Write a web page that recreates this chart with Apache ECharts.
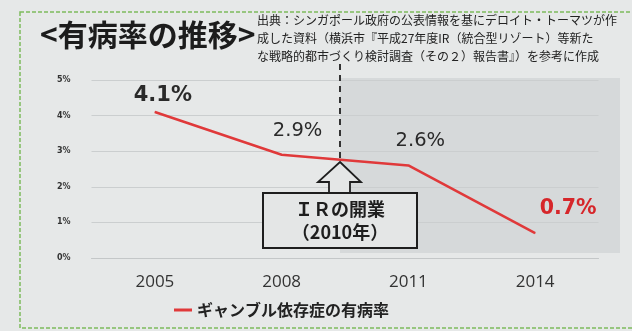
<!DOCTYPE html>
<html>
<head>
<meta charset="utf-8">
<script src="https://cdn.jsdelivr.net/npm/echarts@6/dist/echarts.min.js"></script>
<style>
  html, body { margin: 0; padding: 0; background: #e6e8e8; }
  #chart { width: 632px; height: 331px; }
</style>
</head>
<body>
<div id="chart"></div>
<script>
// Prevalence of gambling addiction (Singapore)
const years = ['2005', '2008', '2011', '2014'];
const prevalence = [4.1, 2.9, 2.6, 0.7];
const yTicks = [0, 1, 2, 3, 4, 5];
const seriesName = 'ギャンブル依存症の有病率';
const titleText = '<有病率の推移>';
const sourceLines = [
  '出典：シンガポール政府の公表情報を基にデロイト・トーマツが作',
  '成した資料（横浜市『平成27年度IR（統合型リゾート）等新た',
  'な戦略的都市づくり検討調査（その２）報告書』）を参考に作成'
];
const noteLines = ['ＩＲの開業', '（2010年）'];

const JP = '"Noto Sans CJK JP", "Noto Sans", sans-serif';
const NUM = '"Open Sans", "Noto Sans", sans-serif';
const LBL = '"DejaVu Sans", sans-serif';

// per-point label styling
const labelStyles = [
  { offset: [8, -5],  fontSize: 21, fontWeight: 'bold', color: '#2a2a2a' },
  { offset: [16, -13], fontSize: 19.5, fontWeight: 'normal', color: '#2a2a2a' },
  { offset: [12, -14], fontSize: 19.5, fontWeight: 'normal', color: '#2a2a2a' },
  { offset: [33, -13], fontSize: 20.5, fontWeight: 'bold', color: '#d6262a' }
];

const chart = echarts.init(document.getElementById('chart'), null, { renderer: 'canvas' });

const seriesData = prevalence.map((v, i) => ({
  value: v,
  label: {
    show: true,
    position: 'top',
    distance: 0,
    offset: labelStyles[i].offset,
    fontSize: labelStyles[i].fontSize,
    fontWeight: labelStyles[i].fontWeight,
    color: labelStyles[i].color,
    fontFamily: LBL,
    formatter: p => p.value.toFixed(1) + '%'
  }
}));

const ax = 340;      // x of the IR opening marker
const apexY = 162;   // where the marker meets the line

chart.setOption({
  backgroundColor: '#e6e8e8',
  animation: false,
  grid: { left: 91.5, right: 33.5, top: 80, bottom: 73 },
  legend: {
    data: [seriesName],
    left: 174,
    top: 302,
    padding: 0,
    icon: 'rect',
    itemWidth: 18,
    itemHeight: 3,
    textStyle: { fontSize: 16, fontWeight: 'bold', color: '#222', fontFamily: JP }
  },
  xAxis: {
    type: 'category',
    data: years,
    boundaryGap: true,
    axisLine: { show: true, lineStyle: { color: '#c4c7c8', width: 1 } },
    axisTick: { show: false },
    axisLabel: { margin: 16, fontSize: 17, color: '#333', fontFamily: NUM }
  },
  yAxis: {
    type: 'value',
    min: yTicks[0],
    max: yTicks[yTicks.length - 1],
    interval: 1,
    axisLine: { show: false },
    axisTick: { show: false },
    splitLine: { lineStyle: { color: '#cbcecf', width: 1 } },
    axisLabel: {
      margin: 21,
      fontSize: 8,
      fontWeight: 'bold',
      color: '#333',
      fontFamily: '"DejaVu Sans", sans-serif',
      formatter: v => v + '%'
    }
  },
  series: [{
    name: seriesName,
    type: 'line',
    data: seriesData,
    symbol: 'circle',
    symbolSize: 1,
    showSymbol: true,
    lineStyle: { color: '#e0393a', width: 2.5 },
    itemStyle: { color: '#e0393a' },
    z: 5
  }],
  graphic: [
    // shaded period after the IR opening
    {
      type: 'rect', z: -1, silent: true,
      shape: { x: ax, y: 78, width: 280, height: 175 },
      style: { fill: '#d6d9da' }
    },
    // green dashed frame
    {
      type: 'rect', z: 0, silent: true,
      shape: { x: 20, y: 12, width: 640, height: 316 },
      style: { fill: 'none', stroke: '#7dbb5c', lineWidth: 1.5, lineDash: [4, 2] }
    },
    // title
    {
      type: 'text', left: 40, top: 20,
      style: { text: titleText, fontSize: 30, fontWeight: 'bold', fill: '#1c1c1c', fontFamily: JP }
    },
    // source note
    {
      type: 'text', left: 257, top: 11,
      style: {
        text: sourceLines.join('\n'),
        fontSize: 12, lineHeight: 18, fill: '#222', fontFamily: JP
      }
    },
    // vertical dashed marker
    {
      type: 'line', z: 4, silent: true,
      shape: { x1: ax, y1: 64, x2: ax, y2: apexY },
      style: { stroke: '#333', lineWidth: 2, lineDash: [6, 5] }
    },
    // hollow arrow pointing up at the line
    {
      type: 'polygon', z: 6, silent: true,
      shape: {
        points: [
          [ax, apexY], [ax + 21, 182], [ax + 10, 182], [ax + 10, 193],
          [ax - 11, 193], [ax - 11, 182], [ax - 22, 182]
        ]
      },
      style: { fill: '#e4e6e6', stroke: '#1e1e1e', lineWidth: 1.8 }
    },
    // annotation box
    {
      type: 'rect', z: 6, silent: true,
      shape: { x: 263, y: 193, width: 154, height: 55 },
      style: { fill: '#e4e6e6', stroke: '#1e1e1e', lineWidth: 2 }
    },
    {
      type: 'text', z: 7, x: ax, y: 221,
      style: {
        text: noteLines.join('\n'),
        align: 'center', verticalAlign: 'middle',
        fontSize: 18, lineHeight: 23, fontWeight: 'bold', fill: '#1e1e1e', fontFamily: JP
      }
    }
  ]
});
</script>
</body>
</html>
